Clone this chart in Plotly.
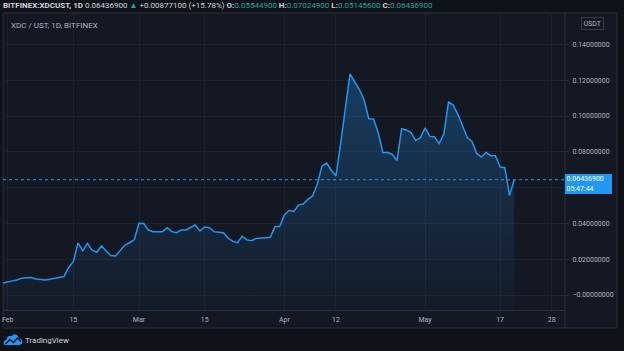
import plotly.graph_objects as go
import pandas as pd

# ---------------- data ----------------
SYMBOL = "BITFINEX:XDCUST"
INTERVAL = "1D"
PANE_TITLE = "XDC / UST, 1D, BITFINEX"
QUOTE = "USDT"
COUNTDOWN = "05:47:44"
OPEN, HIGH, LOW = 0.055449, 0.070249, 0.051456

dates = pd.date_range("2021-01-31", "2021-05-20", freq="D")
close = [
    0.0067, 0.0075, 0.0079, 0.0084, 0.0094, 0.0097, 0.0098, 0.0089, 0.0087, 0.0084,
    0.0088, 0.0092, 0.0098, 0.0103, 0.0154, 0.0186, 0.0291, 0.0247, 0.0289, 0.0250,
    0.0239, 0.0274, 0.0246, 0.0221, 0.0218, 0.0249, 0.0279, 0.0292, 0.0310, 0.0401,
    0.0399, 0.0363, 0.0354, 0.0354, 0.0354, 0.0376, 0.0354, 0.0348, 0.0363, 0.0363,
    0.0375, 0.0391, 0.0358, 0.0380, 0.0376, 0.0354, 0.0351, 0.0348, 0.0318, 0.0300,
    0.0292, 0.0328, 0.0308, 0.0303, 0.0316, 0.0318, 0.0320, 0.0322, 0.0382, 0.0382,
    0.0447, 0.0472, 0.0467, 0.0502, 0.0508, 0.0534, 0.0552, 0.0617, 0.0720, 0.0737,
    0.0697, 0.0665, 0.0847, 0.1030, 0.1235, 0.1190, 0.1148, 0.1089, 0.0985, 0.0983,
    0.0908, 0.0795, 0.0797, 0.0785, 0.0751, 0.0929, 0.0922, 0.0908, 0.0863, 0.0879,
    0.0933, 0.0886, 0.0884, 0.0846, 0.0899, 0.1078, 0.1061, 0.1008, 0.0947, 0.0880,
    0.0858, 0.0791, 0.0771, 0.0796, 0.0778, 0.0778, 0.0715, 0.0711, 0.055598, 0.064369,
]

# 0.06 label sits under the last-price box in the reference, so it shows no text
y_tick_vals = [0.00, 0.02, 0.04, 0.06, 0.08, 0.10, 0.12, 0.14]
y_tick_text = ["\u22120.00000000", "0.02000000", "0.04000000", "",
               "0.08000000", "0.10000000", "0.12000000", "0.14000000"]
x_tick_vals = ["2021-02-01", "2021-02-15", "2021-03-01", "2021-03-15", "2021-04-01",
               "2021-04-12", "2021-05-01", "2021-05-17", "2021-05-28"]
x_tick_text = ["Feb", "15", "Mar", "15", "Apr", "12", "May", "17", "28"]

# ---------------- layout geometry ----------------
W, H = 624, 351
L, R, T, B = 3, 565, 13, 310          # plot area in px
YMIN, YMAX = -0.00838, 0.15754
XRANGE = ["2021-01-31 00:00", "2021-05-30 20:00"]

BG_OUT = "#0f1219"
BG_PANE = "#141823"
GRID = "#1e222d"
BORDER = "#2a2e39"
TXT = "#b2b5be"
BLUE = "#2196f3"
TEAL = "#26a69a"
FONT = "Roboto"


def xp(px):
    return (px - L) / (R - L)


def yp(py):
    return (B - py) / (B - T)


def val2py(v):
    return B - (v - YMIN) / (YMAX - YMIN) * (B - T)


def path(points, close_path=True):
    s = ""
    for i, (a, b) in enumerate(points):
        s += ("M" if i == 0 else "L") + f"{xp(a):.5f},{yp(b):.5f} "
    return s + ("Z" if close_path else "")


last = close[-1]
prev = close[-2]
chg = last - prev
pct = chg / prev * 100

fig = go.Figure()
# baseline for fill (bottom of the pane)
fig.add_trace(go.Scatter(x=dates, y=[YMIN] * len(dates), mode="lines",
                         line=dict(width=0, color="rgba(0,0,0,0)"),
                         hoverinfo="skip", showlegend=False))
fig.add_trace(go.Scatter(
    x=dates, y=close, mode="lines", fill="tonexty",
    line=dict(color=BLUE, width=1.5),
    fillgradient=dict(type="vertical",
                      colorscale=[[0, "rgba(33,150,243,0.02)"],
                                  [1, "rgba(33,150,243,0.30)"]]),
    showlegend=False))

shapes = []
# pane frame (below everything)
shapes.append(dict(type="rect", xref="paper", yref="paper",
                   x0=xp(3), x1=xp(617), y0=yp(13), y1=yp(328),
                   fillcolor=BG_PANE, line=dict(color=BORDER, width=1), layer="below"))
# price line (dotted)
shapes.append(dict(type="line", xref="paper", yref="y", x0=0, x1=1, y0=last, y1=last,
                   line=dict(color=BLUE, width=1, dash="dot"), layer="above"))
# price scale separator
shapes.append(dict(type="line", xref="paper", yref="paper",
                   x0=1, x1=1, y0=yp(13), y1=yp(328),
                   line=dict(color=BORDER, width=1), layer="above"))

# TradingView logo (cloud)
cloud = [(4, 345), (20, 345), (22, 343.5), (22.5, 341), (21, 339), (19, 338.5),
         (18, 336), (16, 334.5), (13.5, 334.5), (11.5, 336), (9, 336), (7, 337.5),
         (6.5, 339.5), (4.5, 340.5), (3.5, 342.5)]
shapes.append(dict(type="path", xref="paper", yref="paper", path=path(cloud),
                   fillcolor=BLUE, line=dict(width=0), layer="above"))
zig = [(5.5, 344), (10, 339.5), (13.5, 342.5), (17.5, 338), (21, 341.5)]
shapes.append(dict(type="path", xref="paper", yref="paper", path=path(zig, False),
                   line=dict(color=BG_OUT, width=1.3), layer="above"))

annotations = []
hdr = (f"<b>{SYMBOL}, {INTERVAL}</b> {last:.8f} "
       f"<span style='color:{TEAL}'>\u25b2</span> +{chg:.8f} (+{pct:.2f}%) "
       f"<b>O:</b><span style='color:{TEAL}'>{OPEN:.8f}</span> "
       f"<b>H:</b><span style='color:{TEAL}'>{HIGH:.8f}</span> "
       f"<b>L:</b><span style='color:{TEAL}'>{LOW:.8f}</span> "
       f"<b>C:</b><span style='color:{TEAL}'>{last:.8f}</span>")
annotations.append(dict(xref="paper", yref="paper", x=xp(1), y=yp(6), text=hdr,
                        showarrow=False, xanchor="left", yanchor="middle",
                        font=dict(family=FONT, size=8, color="#d1d4dc")))
annotations.append(dict(xref="paper", yref="paper", x=xp(9), y=yp(25), text=PANE_TITLE,
                        showarrow=False, xanchor="left", yanchor="middle",
                        font=dict(family=FONT, size=8, color=TXT)))
annotations.append(dict(xref="paper", yref="paper", x=xp(592), y=yp(23.5), text=QUOTE,
                        showarrow=False, xanchor="center", yanchor="middle",
                        bordercolor="#363a45", borderwidth=1, borderpad=1.5,
                        bgcolor=BG_PANE,
                        font=dict(family=FONT, size=7, color=TXT)))
# price label (blue box with last price and countdown)
py = val2py(last)
annotations.append(dict(xref="paper", yref="paper", x=xp(565), y=yp(py - 6),
                        text=f"{last:.8f}<br>{COUNTDOWN}",
                        showarrow=False, xanchor="left", yanchor="top",
                        align="left", width=44, height=17, bgcolor=BLUE,
                        borderpad=1.5, borderwidth=0,
                        font=dict(family=FONT, size=7, color="#ffffff")))
annotations.append(dict(xref="paper", yref="paper", x=xp(23), y=yp(340.5), text="TradingView",
                        showarrow=False, xanchor="left", yanchor="middle",
                        font=dict(family=FONT, size=8, color="#d1d4dc")))

fig.update_layout(
    width=W, height=H,
    margin=dict(l=L, r=W - R, t=T, b=H - B),
    paper_bgcolor=BG_OUT, plot_bgcolor="rgba(0,0,0,0)",
    shapes=shapes, annotations=annotations,
    showlegend=False, hovermode=False,
    xaxis=dict(type="date", range=XRANGE, tickvals=x_tick_vals, ticktext=x_tick_text,
               showgrid=True, gridcolor=GRID, gridwidth=1, zeroline=False,
               showline=True, linecolor=BORDER, linewidth=1,
               ticks="", ticklabelstandoff=3,
               tickfont=dict(family=FONT, size=7, color=TXT), fixedrange=True),
    yaxis=dict(range=[YMIN, YMAX], side="right", tickvals=y_tick_vals, ticktext=y_tick_text,
               showgrid=True, gridcolor=GRID, gridwidth=1, zeroline=False,
               showline=False, ticks="outside", ticklen=3, tickcolor=BORDER,
               ticklabelstandoff=2,
               tickfont=dict(family=FONT, size=7, color=TXT), fixedrange=True),
)

fig.write_html("out.html")
